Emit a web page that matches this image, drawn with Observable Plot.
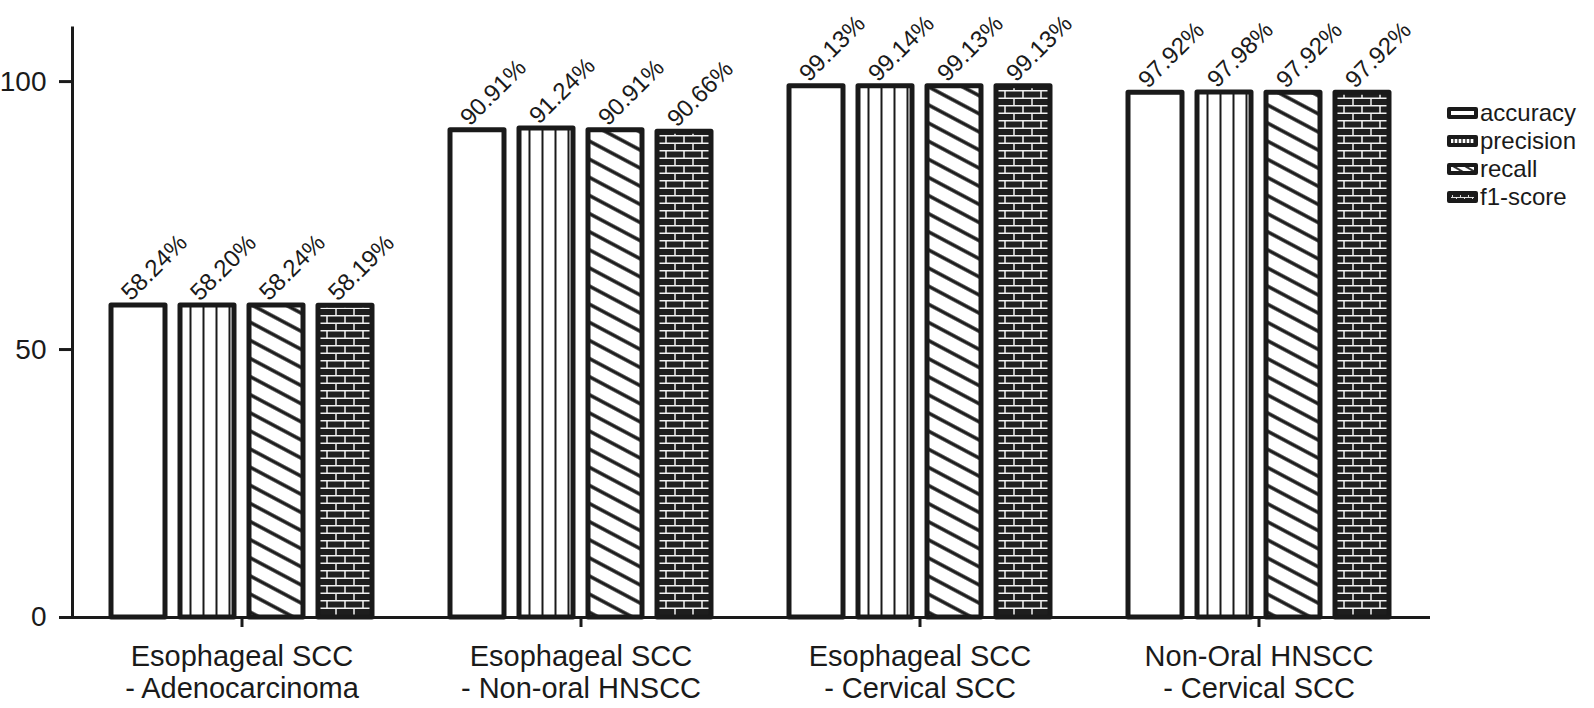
<!DOCTYPE html>
<html><head><meta charset="utf-8">
<script src="https://cdn.jsdelivr.net/npm/d3@7"></script>
<script src="https://cdn.jsdelivr.net/npm/@observablehq/plot@0.6"></script>
<style>
html,body{margin:0;padding:0;background:#fff;}
#wrap{position:relative;width:1594px;height:708px;font-family:"Liberation Sans",Arial,sans-serif;color:#1a1a1a;}
#legend{position:absolute;left:1440px;top:93px;overflow:visible;}
</style></head><body>
<svg width="0" height="0" style="position:absolute">
<defs>
 <pattern id="pat-accuracy" patternUnits="userSpaceOnUse" width="10" height="10">
  <rect width="10" height="10" fill="#fff"/>
 </pattern>
 <pattern id="pat-precision" patternUnits="userSpaceOnUse" width="13" height="10">
  <rect width="13" height="10" fill="#fff"/>
  <line x1="6.5" y1="0" x2="6.5" y2="10" stroke="#1a1a1a" stroke-width="2"/>
 </pattern>
 <pattern id="pat-recall" patternUnits="userSpaceOnUse" width="10" height="16" patternTransform="rotate(28)">
  <rect width="10" height="16" fill="#fff"/>
  <line x1="0" y1="8" x2="10" y2="8" stroke="#1a1a1a" stroke-width="3.5"/>
 </pattern>
 <pattern id="pat-f1-score" patternUnits="userSpaceOnUse" width="18" height="15">
  <rect width="18" height="15" fill="#1e1e1e"/>
  <path d="M0 0.75H18 M0 8.25H18 M1 0.75V8.25 M10 8.25V15" stroke="#f2f2f2" stroke-width="1.5" fill="none"/>
 </pattern>
 <pattern id="leg-accuracy" patternUnits="userSpaceOnUse" width="10" height="10">
  <rect width="10" height="10" fill="#fff"/>
 </pattern>
 <pattern id="leg-precision" patternUnits="userSpaceOnUse" width="4" height="10">
  <rect width="4" height="10" fill="#fff"/>
  <line x1="2" y1="0" x2="2" y2="10" stroke="#1a1a1a" stroke-width="1.3"/>
 </pattern>
 <pattern id="leg-recall" patternUnits="userSpaceOnUse" width="10" height="6" patternTransform="rotate(30)">
  <rect width="10" height="6" fill="#fff"/>
  <line x1="0" y1="3" x2="10" y2="3" stroke="#1a1a1a" stroke-width="1.8"/>
 </pattern>
 <pattern id="leg-f1-score" patternUnits="userSpaceOnUse" width="8" height="6">
  <rect width="8" height="6" fill="#1e1e1e"/>
  <path d="M0 0.5H8 M0 3.5H8 M0.5 0.5V3.5 M4.5 3.5V6" stroke="#f2f2f2" stroke-width="0.9" fill="none"/>
 </pattern>
</defs></svg>
<div id="wrap"></div>
<script>
const groups = [
  "Esophageal SCC\n- Adenocarcinoma",
  "Esophageal SCC\n- Non-oral HNSCC",
  "Esophageal SCC\n- Cervical SCC",
  "Non-Oral HNSCC\n- Cervical SCC"
];
const metrics = ["accuracy", "precision", "recall", "f1-score"];
const accuracy  = [58.24, 90.91, 99.13, 97.92];
const precision = [58.20, 91.24, 99.14, 97.98];
const recall    = [58.24, 90.91, 99.13, 97.92];
const f1score   = [58.19, 90.66, 99.13, 97.92];
const yTicks = [0, 50, 100];

const series = [accuracy, precision, recall, f1score];
const rows = [];
groups.forEach((g, i) => metrics.forEach((m, j) => rows.push({group: g, metric: m, value: series[j][i]})));

const chart = Plot.plot({
  width: 1594, height: 708,
  marginTop: 27.5, marginBottom: 91, marginLeft: 70, marginRight: 165,
  style: {fontFamily: "Liberation Sans, Arial, sans-serif", color: "#1a1a1a", background: "transparent"},
  fx: {domain: groups, padding: 0, label: null},
  x: {domain: metrics, paddingInner: 0.217, paddingOuter: 0.53, axis: null},
  y: {domain: [0, 110], label: null},
  color: {domain: metrics, range: metrics.map(m => `url(#pat-${m})`)},
  marks: [
    Plot.barY(rows, {fx: "group", x: "metric", y: "value", fill: "metric", stroke: "#1a1a1a", strokeWidth: 5, strokeLinejoin: "round"}),
    Plot.text(rows, {fx: "group", x: "metric", y: "value", text: d => d.value.toFixed(2) + "%", rotate: -45, textAnchor: "start", dx: -13, dy: -9, fontSize: 24, fill: "#1a1a1a"}),
    Plot.frame({anchor: "bottom", strokeWidth: 3, stroke: "#1a1a1a"}),
    Plot.frame({anchor: "left", facetAnchor: "left", strokeWidth: 3, stroke: "#1a1a1a"}),
    Plot.axisY({ticks: yTicks, tickSize: 13, tickPadding: 13, fontSize: 28, strokeWidth: 3, label: null}),
    Plot.axisFx({anchor: "bottom", tickSize: 10, tickPadding: 15, fontSize: 29, lineHeight: 1.12, strokeWidth: 3, label: null})
  ]
});
document.getElementById("wrap").appendChild(chart);

// legend
const leg = d3.select("#wrap").append("svg").attr("id", "legend").attr("width", 154).attr("height", 124);
const row = leg.selectAll("g").data(metrics).join("g")
  .attr("transform", (d, i) => `translate(0,${20 + i * 28})`);
row.append("rect").attr("x", 9).attr("y", -4).attr("width", 27).attr("height", 8)
  .attr("fill", d => `url(#leg-${d})`).attr("stroke", "#1a1a1a").attr("stroke-width", 4).attr("stroke-linejoin", "round");
row.append("text").attr("x", 40).attr("y", 8).attr("font-size", 24).attr("fill", "#1a1a1a")
  .attr("font-family", "Liberation Sans, Arial, sans-serif").text(d => d);
</script>
</body></html>
